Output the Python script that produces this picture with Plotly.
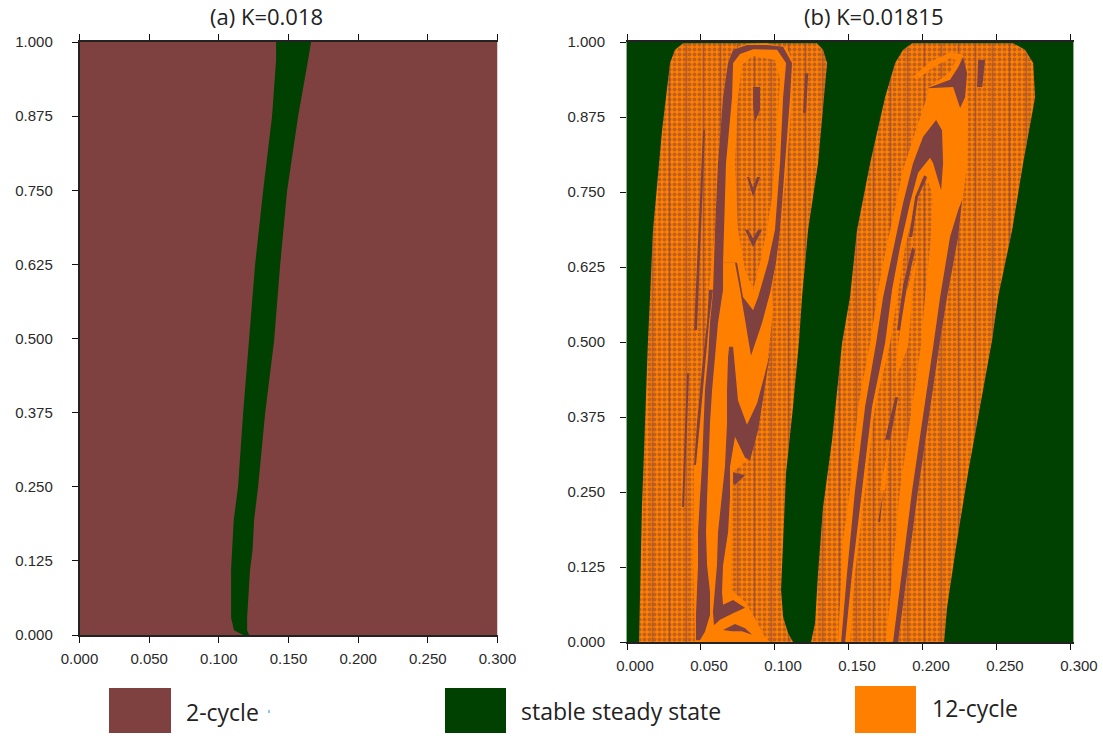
import plotly.graph_objects as go

BROWN = "#7F4040"
GREEN = "#004000"
ORANGE = "#FF8000"
W, H = 1103, 736

x_ticks = [0.0, 0.05, 0.10, 0.15, 0.20, 0.25, 0.30]
y_ticks = [0.0, 0.125, 0.25, 0.375, 0.5, 0.625, 0.75, 0.875, 1.0]
x_labels = ["0.000", "0.050", "0.100", "0.150", "0.200", "0.250", "0.300"]
y_labels = ["0.000", "0.125", "0.250", "0.375", "0.500", "0.625", "0.750", "0.875", "1.000"]
legend_names = ["2-cycle", "stable steady state", "12-cycle"]
titles = ["(a) K=0.018", "(b) K=0.01815"]

# Panel (a): stable steady state band
band_y = [1.0, .970, .875, .749, .624, .497, .373, .250, .194, .143, .110, .076, .029, .008, 0.0]
band_left = [.1411, .1411, .1382, .1318, .1260, .1217, .1174, .1138, .1107, .1095, .1088, .1088, .1088, .1109, .1174]
band_right = [.1662, .1641, .1569, .1490, .1440, .1397, .1332, .1282, .1253, .1242, .1224, .1213, .1203, .1203, .1217]

# Panel (b): basin outlines
lobe1_x = [.0081, .0101, .0142, .0176, .0237, .0291, .0324, .0379, .1284, .1325, .1352, .1332, .1291, .1224, .1183, .1163, .1122, .1075, .1055, .1041, .1055, .1088, .1122]
lobe1_y = [0, .225, .503, .687, .853, .965, .987, .998, .998, .987, .965, .908, .798, .687, .575, .503, .392, .282, .170, .087, .042, .015, 0]
lobe2_x = [.1244, .1271, .1291, .1325, .1386, .1453, .1507, .1555, .1643, .1744, .1812, .1866, .1927, .2609, .2690, .2745, .2758, .2677, .2603, .2508, .2467, .2386, .2305, .2231, .2163, .2143]
lobe2_y = [0, .032, .115, .225, .337, .498, .575, .687, .798, .908, .965, .987, .998, .998, .987, .965, .908, .798, .687, .575, .503, .392, .282, .170, .058, 0]

# Solid 12-cycle zones in the first lobe
core1_x = [.0460, .0446, .0453, .0473, .0514, .0541, .0554, .0595, .0615, .0649, .0683, .0717, .0811, .0946, .1082, .1122, .1115, .1082, .1034, .0980, .0987, .0973, .0953, .0913, .0865, .0811, .0717, .0710, .0703, .0798, .0852, .0933, .0967]
core1_y = [0, .128, .295, .365, .475, .532, .587, .687, .798, .908, .965, .987, .997, .998, .990, .965, .908, .798, .687, .587, .553, .520, .475, .420, .362, .303, .283, .262, .087, .067, .045, .008, 0]
ring1_x = [.0649, .0669, .0710, .0717, .0764, .0852, .1014, .1075, .1055, .1034, .1000, .0953, .0886, .0852, .0784, .0744]
ring1_y = [.632, .798, .908, .965, .980, .988, .987, .965, .908, .798, .687, .632, .575, .553, .575, .632]

# Solid 2-cycle zones in the first lobe
loop1_x = [.0466, .0466, .0480, .0480, .0493, .0507, .0527, .0548, .0561, .0581, .0595, .0615, .0649, .0683, .0717, .0811, .0946, .1055, .1115, .1102, .1068, .1034, .1007, .0967, .0913, .0838, .0764, .0730, .0649, .0649, .0615, .0595, .0575, .0561, .0548, .0541, .0534, .0541, .0561, .0561, .0527, .0493]
loop1_y = [.003, .045, .128, .183, .240, .295, .420, .475, .532, .582, .687, .798, .908, .965, .987, .995, .995, .992, .965, .908, .798, .687, .632, .582, .532, .477, .587, .632, .632, .587, .532, .475, .420, .365, .295, .240, .183, .128, .083, .045, .017, .003]
vee1_x = [.0690, .0683, .0676, .0676, .0662, .0642, .0615, .0608, .0595, .0581, .0588, .0629, .0717, .0798, .0717, .0649, .0642, .0649, .0683, .0696, .0696, .0730, .0798, .0831, .0886, .0946, .0967, .0933, .0879, .0811, .0750, .0717]
vee1_y = [.492, .475, .420, .365, .292, .240, .183, .128, .090, .050, .028, .037, .048, .057, .070, .062, .083, .128, .183, .240, .292, .342, .307, .303, .353, .448, .482, .448, .398, .362, .403, .492]
thin1_x = [.0554, .0541, .0514, .0473, .0453, .0466, .0493, .0534, .0554, .0581]
thin1_y = [.587, .532, .475, .365, .295, .295, .365, .475, .532, .587]
drop1_x = [.0852, .0899, .0899, .0865, .0852]
drop1_y = [.925, .925, .887, .867, .892]
chev1_x = [.0811, .0852, .0899, .0879, .0852, .0825]
chev1_y = [.775, .742, .775, .775, .757, .775]
chev2_x = [.0798, .0852, .0913, .0886, .0852, .0818]
chev2_y = [.687, .658, .687, .687, .673, .687]
blot1_x = [.0717, .0798, .0764, .0730, .0717]
blot1_y = [.283, .278, .270, .262, .265]
arc1_x = [.0649, .0730, .0798, .0845, .0777, .0710]
arc1_y = [.020, .030, .023, .012, .018, .018]
streak1_x = [.0514, .0527, .0473, .0453]
streak1_y = [.853, .853, .520, .520]
streak2_x = [.0406, .0419, .0385, .0372]
streak2_y = [.448, .448, .225, .225]
streak3_x = [.1203, .1224, .1210, .1190]
streak3_y = [.948, .948, .882, .882]

# Speckled zone inside the loop of the first lobe
inner1_x = [.0777, .0852, .1000, .1034, .1014, .0980, .0946, .0899, .0852, .0798, .0750, .0730, .0750]
inner1_y = [.962, .977, .970, .937, .853, .742, .687, .632, .587, .620, .687, .798, .908]

# Second lobe
core2_x = [.2035, .1960, .1866, .1798, .1731, .1690, .1643, .1562, .1507, .1460, .1426, .1832, .1967, .2116, .2163, .2238, .2271, .2298, .2305, .2285, .2238, .2183, .2035]
core2_y = [.915, .858, .787, .708, .632, .575, .498, .392, .253, .170, 0, 0, .253, .503, .575, .675, .742, .798, .892, .953, .978, .950, .923]
hook2_x = [.1933, .2048, .2183, .2265, .2251, .2183, .2069, .1960]
hook2_y = [.942, .967, .982, .980, .967, .973, .958, .937]
wedge2_x = [.2028, .2183, .2238, .2271, .2298, .2285, .2251, .2204]
wedge2_y = [.923, .937, .958, .975, .948, .908, .890, .925]
right2_x = [.2238, .2183, .2116, .2069, .1927, .1798, .1832, .1967, .2116, .2163, .2238, .2265]
right2_y = [.720, .675, .575, .492, .253, 0, 0, .253, .503, .575, .675, .737]
inner2_x = [.2028, .2069, .2048, .2014, .1987, .1845, .1751, .1507, .1541, .1609, .1676, .1778, .1825, .1879, .1960, .1994]
inner2_y = [.773, .742, .658, .575, .495, .253, 0, 0, .115, .253, .392, .498, .575, .658, .742, .775]
arm2_x = [.2089, .2129, .2136, .2123, .2096, .2069, .2048, .1967, .1913, .1845, .1791, .1744, .1656, .1589, .1521, .1474, .1447, .1487, .1541, .1609, .1683, .1731, .1798, .1866, .1933, .2001]
arm2_y = [.870, .853, .798, .753, .775, .798, .807, .782, .732, .658, .587, .498, .392, .253, .115, 0, 0, .115, .253, .392, .498, .575, .653, .732, .798, .842]
mid2_x = [.1960, .1879, .1832, .1812, .1899, .1927]
mid2_y = [.642, .575, .492, .437, .492, .575]
line2a_x = [.1947, .1893, .1845, .1825, .1866, .1927]
line2a_y = [.653, .595, .520, .520, .595, .658]
line2b_x = [.2028, .1967, .1927, .1906, .1947, .2008]
line2b_y = [.775, .742, .675, .675, .742, .778]
line2c_x = [.1812, .1832, .1778, .1744]
line2c_y = [.408, .408, .337, .337]
sliv2a_x = [.1778, .1744, .1710]
sliv2a_y = [.342, .253, .253]
sliv2b_x = [.1731, .1710, .1697]
sliv2b_y = [.250, .200, .200]
edge2_x = [.2373, .2420, .2400, .2366]
edge2_y = [.970, .970, .925, .925]

X_MAX_B = 0.3014
rect_a_x, rect_a_y = [0, .3, .3, 0], [0, 0, 1, 1]
rect_b_x, rect_b_y = [0, X_MAX_B, X_MAX_B, 0], [0, 0, 1, 1]

fig = go.Figure()


def solid(xs, ys, color, ax):
    fig.add_trace(go.Scatter(x=xs, y=ys, mode="lines", fill="toself", fillcolor=color,
                             line=dict(width=0, color=color), hoverinfo="skip",
                             showlegend=False, xaxis="x" + ax, yaxis="y" + ax))


def speckled(xs, ys, ax):
    fig.add_trace(go.Scatter(x=xs, y=ys, mode="lines", fill="toself", fillcolor=ORANGE,
                             fillpattern=dict(shape=".", size=5, solidity=0.5, fgcolor=BROWN, bgcolor=ORANGE),
                             line=dict(width=0, color=ORANGE), hoverinfo="skip",
                             showlegend=False, xaxis="x" + ax, yaxis="y" + ax))
    fig.add_trace(go.Scatter(x=xs, y=ys, mode="lines", fill="toself", fillcolor="rgba(0,0,0,0)",
                             fillpattern=dict(shape="|", size=17, solidity=0.1, fgcolor=BROWN, bgcolor="rgba(0,0,0,0)"),
                             line=dict(width=0, color=ORANGE), hoverinfo="skip",
                             showlegend=False, xaxis="x" + ax, yaxis="y" + ax))


solid(rect_a_x, rect_a_y, BROWN, "")
solid(band_left + band_right[::-1], band_y + band_y[::-1], GREEN, "")

solid(rect_b_x, rect_b_y, GREEN, "2")
speckled(lobe1_x, lobe1_y, "2")
speckled(lobe2_x, lobe2_y, "2")
for xs, ys in [(streak1_x, streak1_y), (streak2_x, streak2_y), (streak3_x, streak3_y)]:
    solid(xs, ys, BROWN, "2")
solid(core1_x, core1_y, ORANGE, "2")
solid(thin1_x, thin1_y, BROWN, "2")
solid(loop1_x, loop1_y, BROWN, "2")
solid(ring1_x, ring1_y, ORANGE, "2")
speckled(inner1_x, inner1_y, "2")
for xs, ys in [(drop1_x, drop1_y), (chev1_x, chev1_y), (chev2_x, chev2_y), (vee1_x, vee1_y), (blot1_x, blot1_y), (arc1_x, arc1_y)]:
    solid(xs, ys, BROWN, "2")
solid(core2_x, core2_y, ORANGE, "2")
solid(hook2_x, hook2_y, ORANGE, "2")
solid(wedge2_x, wedge2_y, BROWN, "2")
solid(right2_x, right2_y, BROWN, "2")
speckled(inner2_x, inner2_y, "2")
solid(arm2_x, arm2_y, BROWN, "2")
solid(mid2_x, mid2_y, ORANGE, "2")
solid(sliv2a_x, sliv2a_y, ORANGE, "2")
for xs, ys in [(line2a_x, line2a_y), (line2b_x, line2b_y), (line2c_x, line2c_y), (sliv2b_x, sliv2b_y), (edge2_x, edge2_y)]:
    solid(xs, ys, BROWN, "2")

TICK_FONT = dict(family="Liberation Sans", size=15, color="#2a2a2a")
common_x = dict(tickmode="array", tickvals=x_ticks, ticktext=x_labels, ticks="outside", ticklen=6,
                tickcolor="#111", tickwidth=1, showgrid=False, zeroline=False, showline=True,
                linecolor="#222", linewidth=1.5, mirror="ticks", tickfont=TICK_FONT, automargin=False)
common_y = dict(tickmode="array", tickvals=y_ticks, ticktext=y_labels, range=[0, 1], ticks="outside", ticklen=6,
                tickcolor="#111", tickwidth=1, showgrid=False, zeroline=False, showline=True, tickfont=TICK_FONT,
                automargin=False)


def px(v):
    return v / W


def py(v):
    return 1 - v / H


annotations = [
    dict(text=titles[0], x=px(266), y=py(16), font=dict(size=22)),
    dict(text=titles[1], x=px(873), y=py(16), font=dict(size=22)),
    dict(text=legend_names[0], x=px(222), y=py(712), font=dict(size=23)),
    dict(text=legend_names[1], x=px(621), y=py(711), font=dict(size=23)),
    dict(text=legend_names[2], x=px(975), y=py(708), font=dict(size=23)),
]
for a in annotations:
    a.update(xref="paper", yref="paper", showarrow=False, xanchor="center", yanchor="middle")
    a["font"].update(family="Open Sans", color="#222222")

shapes = [
    dict(type="rect", x0=px(109), x1=px(171), y0=py(733), y1=py(688), fillcolor=BROWN, line=dict(width=0)),
    dict(type="rect", x0=px(445), x1=px(506), y0=py(733), y1=py(688), fillcolor=GREEN, line=dict(width=0)),
    dict(type="rect", x0=px(855), x1=px(916), y0=py(733), y1=py(686), fillcolor=ORANGE, line=dict(width=0)),
    dict(type="rect", x0=px(268), x1=px(270), y0=py(713), y1=py(710), fillcolor="#8CC8EA", line=dict(width=0)),
]
for s in shapes:
    s.update(xref="paper", yref="paper", layer="above")

fig.update_layout(
    width=W, height=H, margin=dict(l=0, r=0, t=0, b=0, autoexpand=False), paper_bgcolor="white", plot_bgcolor="white",
    showlegend=False, annotations=annotations, shapes=shapes,
    xaxis=dict(common_x, domain=[px(79.5), px(497.5)], range=[0, .3], anchor="y", ticklabelstandoff=3),
    yaxis=dict(common_y, domain=[py(635), py(42)], anchor="x", linecolor="#222", linewidth=1.5, ticklabelstandoff=16),
    xaxis2=dict(common_x, domain=[px(627), px(1073)], range=[0, X_MAX_B], anchor="y2", ticklabelstandoff=3, ticklabelshift=8),
    yaxis2=dict(common_y, domain=[py(642), py(42)], anchor="x2", linecolor="#8FAF8F", linewidth=1, mirror=True, ticklabelstandoff=12),
)

fig.write_html("out.html", config=dict(displayModeBar=False),
               post_script="document.body.style.margin='0';document.body.style.overflow='hidden';")
